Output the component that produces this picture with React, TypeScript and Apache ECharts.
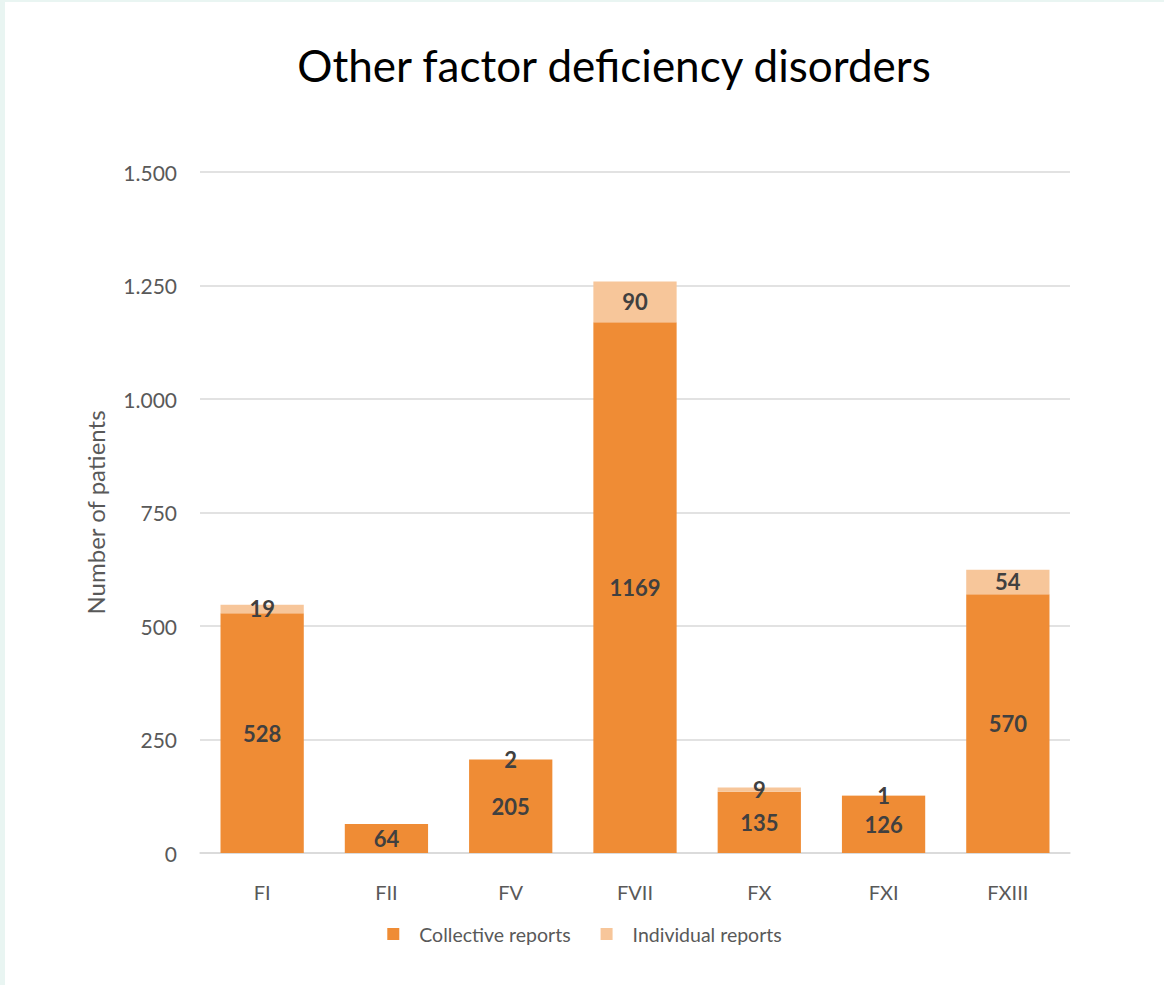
import React, { useEffect, useRef } from "react";
import * as echarts from "echarts";

const categories = ["FI", "FII", "FV", "FVII", "FX", "FXI", "FXIII"];
const collectiveReports = [528, 64, 205, 1169, 135, 126, 570];
const individualReports: (number | null)[] = [19, null, 2, 90, 9, 1, 54];
const yTicks = [0, 250, 500, 750, 1000, 1250, 1500];

const FONT = "Lato, 'Open Sans', sans-serif";

export default function App() {
  const ref = useRef<HTMLDivElement>(null);
  useEffect(() => {
    document.body.style.margin = "0";
    const chart = echarts.init(ref.current!, null, { renderer: "svg" });
    const fmt = (v: number) => String(v).replace(/\B(?=(\d{3})+(?!\d))/g, ".");
    chart.setOption({
      animation: false,
      backgroundColor: "#ffffff",
      textStyle: { fontFamily: FONT },
      title: {
        text: "Other factor deficiency disorders",
        left: 604,
        top: 36,
        textAlign: "center",
        textStyle: { fontFamily: FONT, fontSize: 44, fontWeight: "normal", color: "#000000" },
      },
      legend: {
        bottom: 36,
        left: "center",
        itemWidth: 12,
        itemHeight: 12,
        itemGap: 30,
        icon: "rect",
        textStyle: { fontFamily: FONT, fontSize: 19.5, color: "#595959", padding: [0, 0, 0, 15] },
        data: ["Collective reports", "Individual reports"],
      },
      grid: { left: 195, top: 170, width: 870, height: 681, containLabel: false },
      xAxis: {
        type: "category",
        data: categories,
        axisTick: { show: false },
        axisLine: { lineStyle: { color: "#d9d9d9", width: 1.5 } },
        axisLabel: { fontFamily: FONT, fontSize: 20, color: "#595959", margin: 29 },
      },
      yAxis: {
        type: "value",
        min: yTicks[0],
        max: yTicks[yTicks.length - 1],
        interval: 250,
        name: "Number of patients",
        nameLocation: "middle",
        nameGap: 93,
        nameTextStyle: { fontFamily: FONT, fontSize: 24, color: "#595959" },
        axisLine: { show: false },
        axisTick: { show: false },
        splitLine: { lineStyle: { color: "#d9d9d9", width: 1.5 } },
        axisLabel: { fontFamily: FONT, fontSize: 21, color: "#595959", margin: 23, formatter: fmt },
      },
      series: [
        {
          name: "Collective reports",
          type: "bar",
          stack: "total",
          barWidth: "67%",
          data: collectiveReports,
          itemStyle: { color: "#ef8c35" },
          label: {
            show: true,
            position: "inside",
            fontFamily: FONT,
            fontSize: 22,
            fontWeight: "bold",
            color: "#404040",
          },
        },
        {
          name: "Individual reports",
          type: "bar",
          stack: "total",
          barWidth: "67%",
          data: individualReports,
          itemStyle: { color: "#f7c69a" },
          label: {
            show: true,
            position: "inside",
            fontFamily: FONT,
            fontSize: 22,
            fontWeight: "bold",
            color: "#404040",
          },
        },
      ],
    });
    return () => chart.dispose();
  }, []);
  return (
    <div style={{ width: 1164, height: 985, background: "#e9f5f2", position: "relative" }}>
      <div
        ref={ref}
        style={{ position: "absolute", left: 5, top: 2, width: 1159, height: 983 }}
      />
    </div>
  );
}
